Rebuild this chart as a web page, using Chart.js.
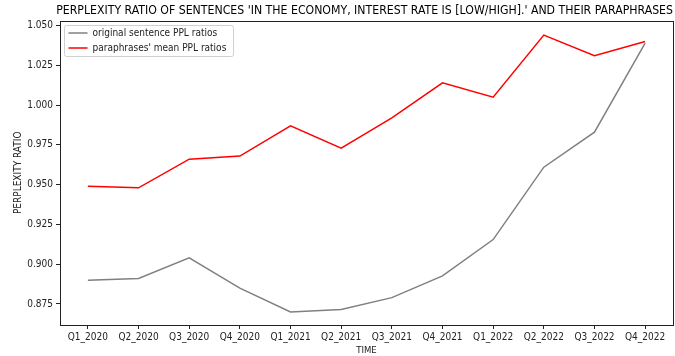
<!DOCTYPE html>
<html>
<head>
<meta charset="utf-8">
<script src="https://cdn.jsdelivr.net/npm/chart.js@4.4.1/dist/chart.umd.min.js"></script>
<style>
  html, body { margin: 0; padding: 0; background: #fff; }
  #wrap { width: 675px; height: 356px; }
</style>
</head>
<body>
<div id="wrap"><canvas id="pplChart"></canvas></div>
<script>
const quarters = ['Q1_2020', 'Q2_2020', 'Q3_2020', 'Q4_2020',
                  'Q1_2021', 'Q2_2021', 'Q3_2021', 'Q4_2021',
                  'Q1_2022', 'Q2_2022', 'Q3_2022', 'Q4_2022'];
const originalRatios = [0.890, 0.891, 0.904, 0.885, 0.870, 0.8716,
                        0.879, 0.8927, 0.9155, 0.961, 0.983, 1.039];
const paraphraseRatios = [0.949, 0.948, 0.966, 0.968, 0.987, 0.973,
                          0.992, 1.014, 1.005, 1.044, 1.031, 1.040];
const yTicks = [0.875, 0.900, 0.925, 0.950, 0.975, 1.000, 1.025, 1.050];

const FONT = '"DejaVu Sans Condensed", "DejaVu Sans"';
const TEXT = '#222';

// box around the whole plot area, like all four spines
const frame = {
  id: 'frame',
  afterDraw(chart) {
    const { ctx, chartArea: a } = chart;
    ctx.save();
    ctx.strokeStyle = '#222';
    ctx.lineWidth = 1;
    ctx.strokeRect(Math.round(a.left) + 0.5, Math.round(a.top) + 0.5,
                   Math.round(a.right - a.left), Math.round(a.bottom - a.top));
    ctx.restore();
  }
};

// legend drawn inside the upper-left corner of the plot
const innerLegend = {
  id: 'innerLegend',
  afterDraw(chart) {
    const { ctx, chartArea: a } = chart;
    const x = Math.round(a.left) + 4.5, y = Math.round(a.top) + 4.5;
    const w = 169, h = 31, r = 2;
    ctx.save();
    ctx.beginPath();
    ctx.roundRect(x, y, w, h, r);
    ctx.fillStyle = 'rgba(255,255,255,0.8)';
    ctx.fill();
    ctx.strokeStyle = '#d0d0d0';
    ctx.lineWidth = 1;
    ctx.stroke();
    ctx.font = '10px ' + FONT;
    ctx.textBaseline = 'middle';
    chart.data.datasets.forEach((ds, i) => {
      const ly = y + 7.5 + i * 15;
      ctx.beginPath();
      ctx.moveTo(x + 4, ly);
      ctx.lineTo(x + 23, ly);
      ctx.strokeStyle = ds.borderColor;
      ctx.lineWidth = ds.borderWidth;
      ctx.stroke();
      ctx.fillStyle = TEXT;
      ctx.fillText(ds.label, x + 28, ly);
    });
    ctx.restore();
  }
};

const tickFont = { family: FONT, size: 10 };

new Chart(document.getElementById('pplChart'), {
  type: 'line',
  data: {
    datasets: [
      {
        label: 'original sentence PPL ratios',
        data: originalRatios.map((v, i) => ({ x: i, y: v })),
        borderColor: '#808080',
        borderWidth: 1.5,
        pointRadius: 0,
        tension: 0
      },
      {
        label: "paraphrases' mean PPL ratios",
        data: paraphraseRatios.map((v, i) => ({ x: i, y: v })),
        borderColor: '#ff0000',
        borderWidth: 1.5,
        pointRadius: 0,
        tension: 0
      }
    ]
  },
  options: {
    responsive: true,
    maintainAspectRatio: false,
    animation: false,
    devicePixelRatio: 1,
    layout: { padding: { left: 0, right: 2, top: 0, bottom: 0 } },
    plugins: {
      legend: { display: false },
      tooltip: { enabled: false },
      title: {
        display: true,
        text: "PERPLEXITY RATIO OF SENTENCES 'IN THE ECONOMY, INTEREST RATE IS [LOW/HIGH].' AND THEIR PARAPHRASES",
        align: 'end',
        color: '#000',
        font: { family: FONT, size: 12.2, weight: 'normal' },
        padding: { top: 4, bottom: 2 }
      }
    },
    scales: {
      x: {
        type: 'linear',
        min: -0.55,
        max: quarters.length - 1 + 0.55,
        afterBuildTicks: s => { s.ticks = quarters.map((q, i) => ({ value: i })); },
        afterFit: s => { s.height = 31; },
        ticks: {
          callback: v => quarters[v],
          autoSkip: false,
          maxRotation: 0,
          padding: 2,
          color: TEXT,
          font: tickFont
        },
        grid: { display: true, drawOnChartArea: false, tickLength: 4, color: '#222' },
        border: { display: false },
        title: { display: true, text: 'TIME', color: TEXT, font: { family: FONT, size: 9.5 }, padding: 0 }
      },
      y: {
        min: 0.8618,
        max: 1.0531,
        afterBuildTicks: s => { s.ticks = yTicks.map(v => ({ value: v })); },
        afterFit: s => { s.width = 60; },
        ticks: {
          callback: v => v.toFixed(3),
          padding: 3,
          color: TEXT,
          font: tickFont
        },
        grid: { display: true, drawOnChartArea: false, tickLength: 4, color: '#222' },
        border: { display: false },
        title: { display: true, text: 'PERPLEXITY RATIO', color: TEXT, font: { family: FONT, size: 10 }, padding: { top: 12, bottom: 0 } }
      }
    }
  },
  plugins: [frame, innerLegend]
});
</script>
</body>
</html>
